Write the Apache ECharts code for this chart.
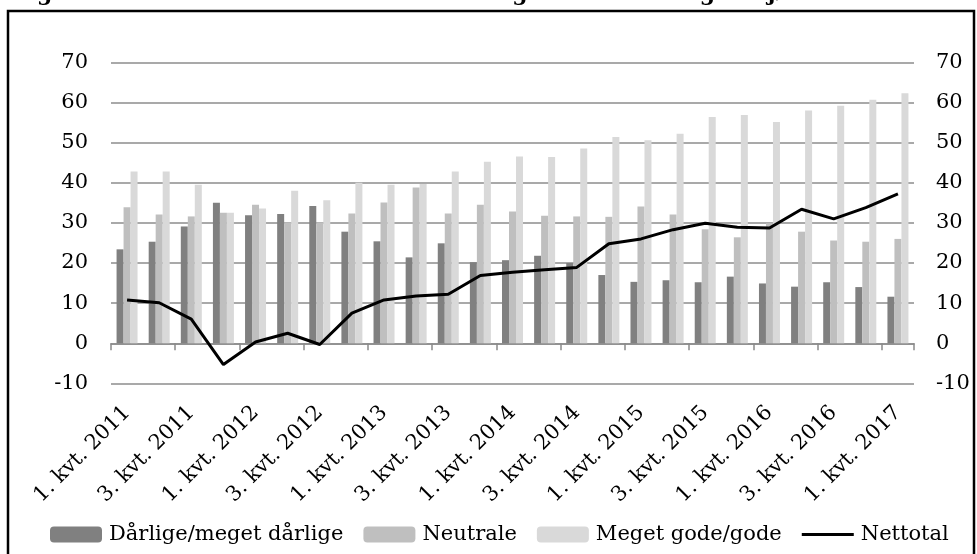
<!DOCTYPE html>
<html>
<head>
<meta charset="utf-8">
<script src="https://cdn.jsdelivr.net/npm/echarts@6/dist/echarts.min.js"></script>
<style>
html, body { margin: 0; padding: 0; background: #fff; }
#chart { width: 977px; height: 554px; }
</style>
</head>
<body>
<div id="chart"></div>
<script>
// kvartaler 2011K1 - 2017K1
const quarters = [
    '1. kvt. 2011', '2. kvt. 2011', '3. kvt. 2011', '4. kvt. 2011',
    '1. kvt. 2012', '2. kvt. 2012', '3. kvt. 2012', '4. kvt. 2012',
    '1. kvt. 2013', '2. kvt. 2013', '3. kvt. 2013', '4. kvt. 2013',
    '1. kvt. 2014', '2. kvt. 2014', '3. kvt. 2014', '4. kvt. 2014',
    '1. kvt. 2015', '2. kvt. 2015', '3. kvt. 2015', '4. kvt. 2015',
    '1. kvt. 2016', '2. kvt. 2016', '3. kvt. 2016', '4. kvt. 2016',
    '1. kvt. 2017'
];

const daarlige = [23.4, 25.3, 29.1, 35.0, 31.9, 32.2, 34.2, 27.8, 25.4, 21.4, 24.9, 20.2, 20.7,
    21.8, 20.0, 17.0, 15.3, 15.7, 15.2, 16.6, 14.9, 14.1, 15.2, 14.0, 11.6];
const neutrale = [33.9, 32.1, 31.6, 32.5, 34.5, 30.1, 30.1, 32.3, 35.1, 38.8, 32.3, 34.5, 32.8,
    31.8, 31.6, 31.5, 34.1, 32.1, 28.4, 26.4, 29.9, 27.8, 25.6, 25.3, 26.0];
const gode = [42.8, 42.8, 39.5, 32.5, 33.6, 38.0, 35.6, 40.0, 39.5, 39.7, 42.8, 45.2, 46.5,
    46.4, 48.5, 51.4, 50.6, 52.2, 56.4, 56.9, 55.1, 58.0, 59.2, 60.7, 62.3];
const nettotal = [10.8, 10.1, 6.0, -5.3, 0.3, 2.5, -0.3, 7.5, 10.8, 11.8, 12.2, 16.9, 17.7,
    18.3, 18.9, 24.8, 26.0, 28.3, 29.9, 28.9, 28.7, 33.4, 31.0, 33.8, 37.2];

const yMin = -10, yMax = 70, yStep = 10;

const font = 'DejaVu Serif';

var chart = echarts.init(document.getElementById('chart'));

function barSeries(name, data, color) {
    return {
        name: name,
        type: 'bar',
        data: data,
        barWidth: 7,
        barGap: '0%',
        itemStyle: { color: color },
        emphasis: { disabled: true }
    };
}

var yLabel = { color: '#000', fontFamily: font, fontSize: 21 };

var option = {
    animation: false,
    graphic: [
        {
            type: 'rect',
            shape: { x: 8, y: 11, width: 966, height: 600 },
            style: { fill: 'none', stroke: '#000', lineWidth: 2.5 }
        },
        {
            type: 'text',
            left: 13,
            top: -17,
            style: {
                text: 'Figur 5: Danske virksomheders vurdering af finansieringsmiljøet',
                font: 'bold 22px "DejaVu Serif"',
                fill: '#000'
            }
        }
    ],
    grid: { left: 111, right: 63, top: 62.3, bottom: 170.6 },
    legend: {
        left: 45,
        top: 519,
        itemWidth: 52,
        itemHeight: 16,
        itemGap: 20,
        textStyle: { color: '#000', fontFamily: font, fontSize: 21, padding: [0, 0, 0, 2] },
        data: [
            'Dårlige/meget dårlige',
            'Neutrale',
            'Meget gode/gode',
            { name: 'Nettotal', icon: 'path://M0,0 L52,0 L52,3 L0,3 Z' }
        ]
    },
    xAxis: {
        type: 'category',
        data: quarters,
        axisLine: { onZero: true, lineStyle: { color: '#8a8a8a', width: 1.5 } },
        axisTick: { show: true, interval: 1, length: 7, lineStyle: { color: '#8a8a8a', width: 1.5 } },
        axisLabel: { interval: 1, rotate: 45, margin: 26, color: '#000', fontFamily: font, fontSize: 21 },
        splitLine: { show: false }
    },
    yAxis: [
        {
            type: 'value',
            min: yMin, max: yMax, interval: yStep,
            axisLine: { show: false },
            axisTick: { show: false },
            axisLabel: Object.assign({ margin: 23 }, yLabel),
            splitLine: { lineStyle: { color: '#8c8c8c', width: 1.5 } }
        },
        {
            type: 'value',
            position: 'right',
            min: yMin, max: yMax, interval: yStep,
            axisLine: { show: false },
            axisTick: { show: false },
            axisLabel: Object.assign({ margin: 22 }, yLabel),
            splitLine: { show: false }
        }
    ],
    series: [
        barSeries('Dårlige/meget dårlige', daarlige, '#808080'),
        barSeries('Neutrale', neutrale, '#bfbfbf'),
        barSeries('Meget gode/gode', gode, '#d9d9d9'),
        {
            name: 'Nettotal',
            type: 'line',
            data: nettotal,
            showSymbol: false,
            symbol: 'none',
            z: 5,
            lineStyle: { color: '#000', width: 3 },
            itemStyle: { color: '#000' },
            emphasis: { disabled: true }
        }
    ]
};

chart.setOption(option);
</script>
</body>
</html>
